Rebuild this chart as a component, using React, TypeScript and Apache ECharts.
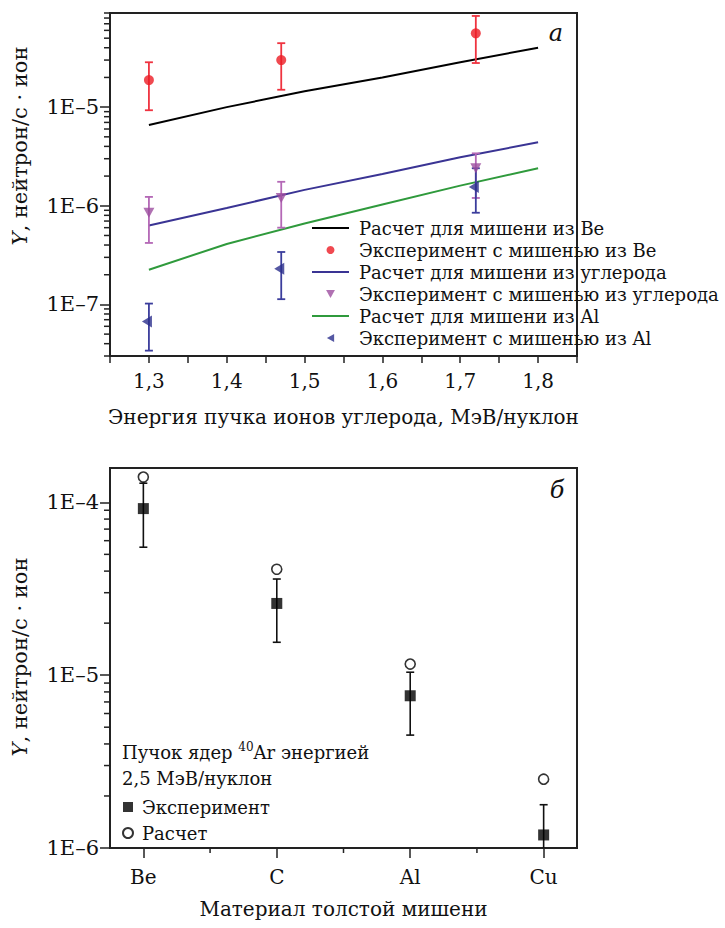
import React, { useEffect, useRef } from 'react';
import * as echarts from 'echarts';

// ---------- data: top panel (а) ----------
const energy = [1.3, 1.4, 1.5, 1.6, 1.7, 1.8];
const calcBe = [6.6e-6, 1.0e-5, 1.45e-5, 2.0e-5, 2.85e-5, 4.0e-5];
const calcC = [6.3e-7, 9.5e-7, 1.45e-6, 2.1e-6, 3.1e-6, 4.4e-6];
const calcAl = [2.25e-7, 4.1e-7, 6.6e-7, 1.03e-6, 1.6e-6, 2.4e-6];

const expEnergy = [1.3, 1.47, 1.72];
const expBe = [1.88e-5, 3.0e-5, 5.6e-5];
const expBeLow = [9.3e-6, 1.5e-5, 2.8e-5];
const expBeHigh = [2.85e-5, 4.45e-5, 8.4e-5];
const expC = [8.5e-7, 1.2e-6, 2.4e-6];
const expCLow = [4.2e-7, 6.0e-7, 1.2e-6];
const expCHigh = [1.23e-6, 1.75e-6, 3.4e-6];
const expAl = [6.7e-8, 2.3e-7, 1.55e-6];
const expAlLow = [3.4e-8, 1.13e-7, 8.5e-7];
const expAlHigh = [1.02e-7, 3.4e-7, 2.4e-6];

const energyTicks = [1.3, 1.4, 1.5, 1.6, 1.7, 1.8];

// ---------- data: bottom panel (б) ----------
const materials = ['Be', 'C', 'Al', 'Cu'];
const materialPos = [1, 2, 3, 4];
const materialMinor = [1.5, 2.5, 3.5];
const targetExp = [9.2e-5, 2.6e-5, 7.6e-6, 1.19e-6];
const targetExpLow = [5.5e-5, 1.55e-5, 4.5e-6, 8e-7];
const targetExpHigh = [1.29e-4, 3.6e-5, 1.04e-5, 1.78e-6];
const targetCalc = [1.4e-4, 4.1e-5, 1.16e-5, 2.5e-6];

const topXRange = [1.25, 1.85];
const botXRange = [0.75, 4.25];
const topYRange = [3e-8, 9e-5];
const botYRange = [1e-6, 1.58e-4];
const topMajor = [1e-7, 1e-6, 1e-5];
const botMajor = [1e-6, 1e-5, 1e-4];

const FONT = 'DejaVu Serif';
const INK = '#111';

const L = Math.log10;

function minorTicks(lo: number, hi: number) {
  const out: number[] = [];
  const a = Math.floor(L(lo));
  const b = Math.ceil(L(hi));
  for (let d = a; d <= b; d++) {
    for (let k = 2; k <= 9; k++) {
      const v = L(k) + d;
      if (v >= L(lo) - 1e-9 && v <= L(hi) + 1e-9) out.push(v);
    }
  }
  return out;
}

function expLabel(v: number) {
  const e = Math.round(v);
  return '1E' + (e < 0 ? '–' + -e : String(e));
}

function errorSeries(xs: number[], lows: number[], highs: number[], color: string, xi: number, yi: number, cap: number, width: number) {
  return {
    type: 'custom',
    xAxisIndex: xi,
    yAxisIndex: yi,
    clip: true,
    silent: true,
    z: 2,
    data: xs.map((x, i) => [x, L(lows[i]), L(highs[i])]),
    renderItem: (_p: any, api: any) => {
      const lo = api.coord([api.value(0), api.value(1)]);
      const hi = api.coord([api.value(0), api.value(2)]);
      const style = { stroke: color, lineWidth: width };
      return {
        type: 'group',
        children: [
          { type: 'line', shape: { x1: lo[0], y1: lo[1], x2: hi[0], y2: hi[1] }, style },
          { type: 'line', shape: { x1: lo[0] - cap, y1: lo[1], x2: lo[0] + cap, y2: lo[1] }, style },
          { type: 'line', shape: { x1: hi[0] - cap, y1: hi[1], x2: hi[0] + cap, y2: hi[1] }, style },
        ],
      };
    },
  };
}

// minor axis ticks, positioned through the axes' own scales
function minorTickSeries(points: number[][], xi: number, yi: number, dx: number, dy: number) {
  return {
    type: 'custom',
    xAxisIndex: xi,
    yAxisIndex: yi,
    clip: false,
    silent: true,
    z: 5,
    data: points,
    renderItem: (_p: any, api: any) => {
      const p = api.coord([api.value(0), api.value(1)]);
      return {
        type: 'line',
        shape: { x1: p[0], y1: p[1], x2: p[0] + dx, y2: p[1] + dy },
        style: { stroke: '#222', lineWidth: 1.5 },
      };
    },
  };
}

const lineIcon = 'path://M0,0H40V2H0Z';
const downTri = 'path://M0,0H10L5,9Z';
const leftTri = 'path://M0,5L9,0V10Z';

const axisLineStyle = { color: '#222', width: 2 };
const tickStyle = { color: '#222', width: 1.5 };

function buildOption(): any {
  const names = [
    'Расчет для мишени из Be',
    'Эксперимент с мишенью из Be',
    'Расчет для мишени из углерода',
    'Эксперимент с мишенью из углерода',
    'Расчет для мишени из Al',
    'Эксперимент с мишенью из Al',
  ];
  return {
    animation: false,
    backgroundColor: '#fff',
    textStyle: { fontFamily: FONT, color: INK },
    grid: [
      { left: 110, top: 13, width: 467, height: 343, show: true, borderColor: '#222', borderWidth: 2, backgroundColor: 'transparent' },
      { left: 110, top: 468, width: 467, height: 380, show: true, borderColor: '#222', borderWidth: 2, backgroundColor: 'transparent' },
    ],
    xAxis: [
      {
        gridIndex: 0, type: 'value', position: 'bottom', min: topXRange[0], max: topXRange[1], interval: 0.05,
        axisLine: { onZero: false, lineStyle: axisLineStyle },
        axisTick: { length: 7, lineStyle: tickStyle },
        splitLine: { show: false },
        axisLabel: {
          margin: 15, fontSize: 20, color: INK, fontFamily: FONT,
          formatter: (v: number) => {
            const hit = energyTicks.find((t) => Math.abs(t - v) < 1e-6);
            return hit === undefined ? '' : hit.toFixed(1).replace('.', ',');
          },
        },
        name: 'Энергия пучка ионов углерода, МэВ/нуклон',
        nameLocation: 'middle', nameGap: 51,
        nameTextStyle: { fontSize: 20, color: INK, fontFamily: FONT },
      },
      {
        gridIndex: 1, type: 'value', position: 'bottom', min: botXRange[0], max: botXRange[1],
        axisLine: { onZero: false, lineStyle: axisLineStyle },
        axisTick: { length: 10, customValues: materialPos, lineStyle: tickStyle },
        splitLine: { show: false },
        axisLabel: {
          customValues: materialPos, margin: 19, fontSize: 20, color: INK, fontFamily: FONT,
          formatter: (v: number) => materials[Math.round(v) - 1] ?? '',
        },
        name: 'Материал толстой мишени',
        nameLocation: 'middle', nameGap: 51,
        nameTextStyle: { fontSize: 20, color: INK, fontFamily: FONT },
      },
    ],
    yAxis: [
      {
        gridIndex: 0, type: 'value', position: 'left', min: L(topYRange[0]), max: L(topYRange[1]),
        axisLine: { show: true, onZero: false, lineStyle: axisLineStyle },
        axisTick: { length: 10, customValues: topMajor.map(L), lineStyle: tickStyle },
        axisLabel: { customValues: topMajor.map(L), formatter: expLabel, margin: 11, fontSize: 21, color: INK, fontFamily: FONT },
        splitLine: { show: false },
      },
      {
        gridIndex: 1, type: 'value', position: 'left', min: L(botYRange[0]), max: L(botYRange[1]),
        axisLine: { show: true, onZero: false, lineStyle: axisLineStyle },
        axisTick: { length: 10, customValues: botMajor.map(L), lineStyle: tickStyle },
        axisLabel: { customValues: botMajor.map(L), formatter: expLabel, margin: 11, fontSize: 21, color: INK, fontFamily: FONT },
        splitLine: { show: false },
      },
    ],
    legend: [
      {
        left: 312, top: 219, orient: 'vertical', padding: 0,
        itemWidth: 37, itemHeight: 8, itemGap: 4, selectedMode: false,
        itemStyle: { borderWidth: 0 },
        textStyle: { fontSize: 18, lineHeight: 18, color: INK, fontFamily: FONT, padding: [0, 0, 0, 5] },
        data: [
          { name: names[0], icon: lineIcon },
          { name: names[1], icon: 'circle' },
          { name: names[2], icon: lineIcon },
          { name: names[3], icon: downTri },
          { name: names[4], icon: lineIcon },
          { name: names[5], icon: leftTri },
        ],
      },
      {
        left: 122, top: 798, orient: 'vertical', padding: 0,
        itemWidth: 10, itemHeight: 10, itemGap: 8, selectedMode: false,
        textStyle: { fontSize: 18, lineHeight: 18, color: INK, fontFamily: FONT, padding: [0, 0, 0, 4] },
        data: [
          { name: 'Эксперимент', icon: 'rect' },
          { name: 'Расчет', icon: 'circle' },
        ],
      },
    ],
    series: [
      {
        name: names[0], type: 'line', xAxisIndex: 0, yAxisIndex: 0, symbol: 'none', z: 1,
        color: '#000', lineStyle: { color: '#000', width: 2 },
        data: energy.map((x, i) => [x, L(calcBe[i])]),
      },
      {
        name: names[2], type: 'line', xAxisIndex: 0, yAxisIndex: 0, symbol: 'none', z: 1,
        color: '#3a3494', lineStyle: { color: '#3a3494', width: 2 },
        data: energy.map((x, i) => [x, L(calcC[i])]),
      },
      {
        name: names[4], type: 'line', xAxisIndex: 0, yAxisIndex: 0, symbol: 'none', z: 1,
        color: '#2f9a3c', lineStyle: { color: '#2f9a3c', width: 2 },
        data: energy.map((x, i) => [x, L(calcAl[i])]),
      },
      errorSeries(expEnergy, expBeLow, expBeHigh, '#ef3340', 0, 0, 4, 1.8),
      errorSeries(expEnergy, expCLow, expCHigh, '#b468b6', 0, 0, 4, 1.8),
      errorSeries(expEnergy, expAlLow, expAlHigh, '#3b3d9c', 0, 0, 4, 1.8),
      {
        name: names[1], type: 'scatter', xAxisIndex: 0, yAxisIndex: 0, z: 3,
        symbol: 'circle', symbolSize: 10, color: '#ec1c24',
        data: expEnergy.map((x, i) => [x, L(expBe[i])]),
      },
      {
        name: names[3], type: 'scatter', xAxisIndex: 0, yAxisIndex: 0, z: 3,
        symbol: downTri, symbolSize: [11, 10], color: '#9c4d9f',
        data: expEnergy.map((x, i) => [x, L(expC[i])]),
      },
      {
        name: names[5], type: 'scatter', xAxisIndex: 0, yAxisIndex: 0, z: 4,
        symbol: leftTri, symbolSize: [10, 12], symbolOffset: [-2, 0], color: '#2b2e8c',
        data: expEnergy.map((x, i) => [x, L(expAl[i])]),
      },
      errorSeries(materialPos, targetExpLow, targetExpHigh, '#111', 1, 1, 4, 1.6),
      {
        name: 'Эксперимент', type: 'scatter', xAxisIndex: 1, yAxisIndex: 1, z: 3,
        symbol: 'rect', symbolSize: 11, color: '#000',
        data: materialPos.map((x, i) => [x, L(targetExp[i])]),
      },
      {
        name: 'Расчет', type: 'scatter', xAxisIndex: 1, yAxisIndex: 1, z: 3,
        symbol: 'circle', symbolSize: 10,
        itemStyle: { color: '#fff', borderColor: '#000', borderWidth: 1.6 },
        data: materialPos.map((x, i) => [x, L(targetCalc[i])]),
      },
      minorTickSeries(minorTicks(topYRange[0], topYRange[1]).map((v) => [topXRange[0], v]), 0, 0, -6, 0),
      minorTickSeries(minorTicks(botYRange[0], botYRange[1]).map((v) => [botXRange[0], v]), 1, 1, -6, 0),
      minorTickSeries(materialMinor.map((v) => [v, L(botYRange[0])]), 1, 1, 0, 5),
    ],
    graphic: [
      {
        type: 'text', x: 20, y: 146, rotation: Math.PI / 2,
        style: {
          text: '{i|Y}, нейтрон/с · ион', align: 'center', verticalAlign: 'middle',
          fontSize: 21, fontFamily: FONT, fill: INK,
          rich: { i: { fontStyle: 'italic', fontSize: 21, fontFamily: FONT, fill: INK } },
        },
      },
      {
        type: 'text', x: 20, y: 657, rotation: Math.PI / 2,
        style: {
          text: '{i|Y}, нейтрон/с · ион', align: 'center', verticalAlign: 'middle',
          fontSize: 21, fontFamily: FONT, fill: INK,
          rich: { i: { fontStyle: 'italic', fontSize: 21, fontFamily: FONT, fill: INK } },
        },
      },
      {
        type: 'text', x: 556, y: 33,
        style: { text: 'а', fontStyle: 'italic', fontSize: 24, fontFamily: FONT, fill: INK, align: 'center', verticalAlign: 'middle' },
      },
      {
        type: 'text', x: 557, y: 490,
        style: { text: 'б', fontStyle: 'italic', fontSize: 24, fontFamily: FONT, fill: INK, align: 'center', verticalAlign: 'middle' },
      },
      {
        type: 'text', x: 122, y: 752,
        style: {
          text: '{t|Пучок ядер }{s|40}{t|Ar энергией}', verticalAlign: 'middle', align: 'left',
          fontSize: 18, fontFamily: FONT, fill: INK,
          rich: {
            t: { fontSize: 18, fontFamily: FONT, fill: INK, lineHeight: 22, verticalAlign: 'middle' },
            s: { fontSize: 12, fontFamily: FONT, fill: INK, lineHeight: 22, verticalAlign: 'top' },
          },
        },
      },
      {
        type: 'text', x: 122, y: 778,
        style: { text: '2,5 МэВ/нуклон', fontSize: 18, fontFamily: FONT, fill: INK, align: 'left', verticalAlign: 'middle' },
      },
    ],
  };
}

export default function App() {
  const ref = useRef<HTMLDivElement>(null);
  useEffect(() => {
    if (!ref.current) return;
    const chart = echarts.init(ref.current, undefined, { renderer: 'svg' });
    chart.setOption(buildOption());
    return () => chart.dispose();
  }, []);
  return (
    <div
      ref={ref}
      style={{ position: 'fixed', left: 0, top: 0, width: 725, height: 928, background: '#fff' }}
    />
  );
}
